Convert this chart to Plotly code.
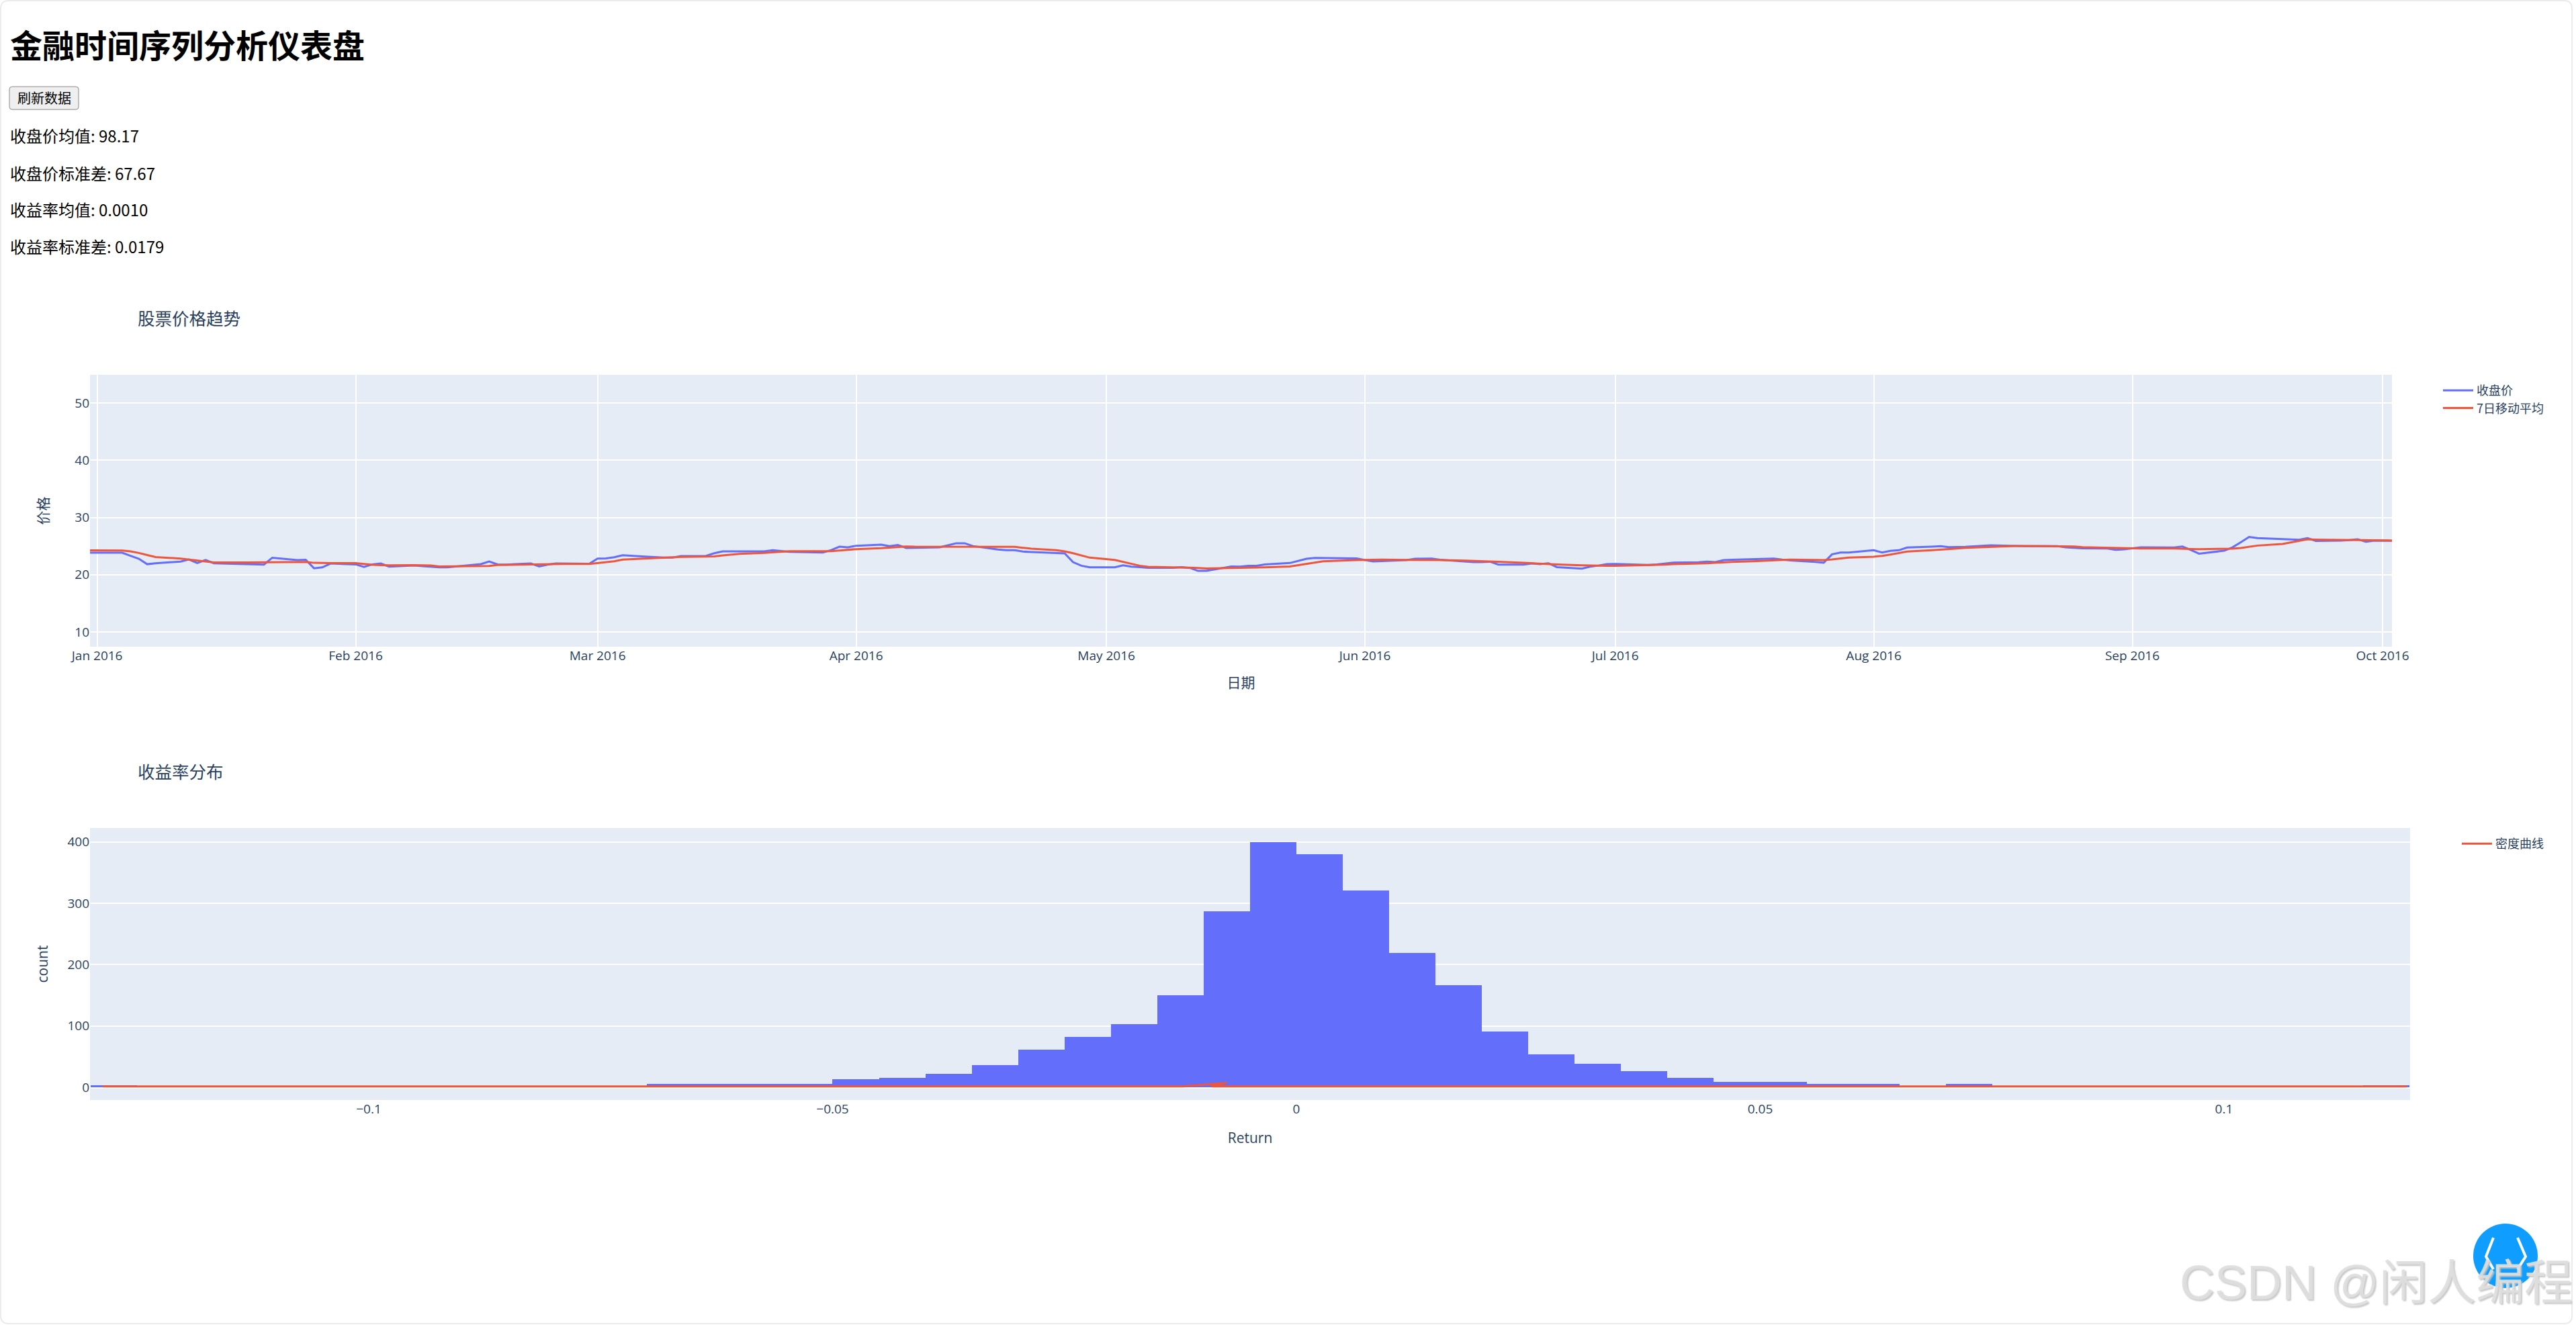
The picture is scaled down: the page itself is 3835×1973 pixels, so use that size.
import pandas as pd
import plotly.graph_objects as go

W, H = 3835, 1973

# ---------- data ----------
holidays = ["2016-01-01", "2016-01-18", "2016-02-15", "2016-03-25", "2016-05-30", "2016-07-04", "2016-09-05"]
dates = [d.strftime("%Y-%m-%d") for d in pd.bdate_range("2015-12-31", "2016-10-03") if d.strftime("%Y-%m-%d") not in holidays]

close_dec = [23.84]
close_jan = [23.83, 23.3, 22.78, 21.84, 22.0, 22.3, 22.66, 22.03, 22.58, 22.0, 21.88, 21.85, 21.76, 22.97, 22.54, 22.62, 21.13, 21.29, 21.96]
close_feb = [21.8, 21.37, 21.8, 21.96, 21.41, 21.6, 21.5, 21.4, 21.3, 21.3, 21.85, 22.3, 21.8, 21.76, 21.96, 21.45, 21.76, 21.96, 21.96, 21.9]
close_mar = [22.82, 22.86, 23.06, 23.41, 23.14, 23.06, 23.0, 23.0, 23.25, 23.3, 23.76, 24.08, 24.08, 24.08, 24.08, 24.27, 24.1, 24.0, 23.88, 24.3, 24.9, 24.78]
close_apr = [25.06, 25.25, 25.0, 25.2, 24.67, 24.7, 24.78, 25.14, 25.5, 25.5, 25.0, 24.4, 24.27, 24.27, 24.04, 23.96, 23.8, 23.73, 22.2, 21.57, 21.3]
close_may = [21.3, 21.65, 21.4, 21.33, 21.2, 21.2, 21.33, 21.18, 20.67, 20.67, 21.45, 21.41, 21.57, 21.57, 21.8, 22.04, 22.4, 22.78, 22.94, 22.94, 22.86]
close_jun = [22.55, 22.31, 22.39, 22.55, 22.78, 22.78, 22.82, 22.6, 22.24, 22.2, 22.2, 22.27, 21.76, 21.76, 21.96, 21.84, 22.0, 21.33, 21.06, 21.41, 21.6, 21.84]
close_jul = [21.88, 21.69, 21.8, 21.96, 22.1, 22.16, 22.3, 22.2, 22.55, 22.6, 22.7, 22.78, 22.82, 22.63, 22.5, 22.24, 22.1, 23.57, 23.88, 23.88]
close_aug = [24.27, 23.88, 24.16, 24.27, 24.75, 24.9, 24.98, 24.82, 24.82, 24.86, 25.14, 25.1, 25.06, 25.0, 25.0, 24.98, 24.98, 24.78, 24.67, 24.6, 24.58, 24.34, 24.42]
close_sep = [24.58, 24.77, 24.74, 24.93, 24.34, 23.68, 24.19, 24.77, 25.67, 26.6, 26.4, 26.2, 26.1, 26.1, 26.38, 25.9, 25.95, 26.03, 26.2, 25.75, 25.95]
close_oct = [25.9]

ma_dec = [24.26]
ma_jan = [24.22, 24.07, 23.8, 23.44, 23.09, 22.82, 22.66, 22.5, 22.35, 22.15, 22.15, 22.15, 22.15, 22.2, 22.23, 22.23, 22.07, 22.03, 22.03]
ma_feb = [22.03, 21.84, 21.72, 21.68, 21.64, 21.68, 21.64, 21.6, 21.45, 21.45, 21.53, 21.53, 21.69, 21.72, 21.76, 21.76, 21.8, 21.84, 21.88, 21.88]
ma_mar = [22.04, 22.2, 22.35, 22.63, 22.82, 22.94, 23.0, 23.06, 23.1, 23.18, 23.2, 23.37, 23.53, 23.65, 23.8, 23.92, 24.04, 24.12, 24.12, 24.12, 24.23, 24.35]
ma_apr = [24.47, 24.63, 24.75, 24.86, 24.94, 24.9, 24.9, 24.94, 24.94, 24.94, 24.94, 24.94, 24.94, 24.86, 24.7, 24.55, 24.27, 24.08, 23.76, 23.37, 22.98]
ma_may = [22.59, 22.27, 21.92, 21.57, 21.37, 21.3, 21.3, 21.2, 21.18, 21.1, 21.18, 21.18, 21.18, 21.2, 21.3, 21.45, 21.69, 21.92, 22.16, 22.35, 22.55]
ma_jun = [22.59, 22.63, 22.63, 22.59, 22.59, 22.59, 22.59, 22.55, 22.47, 22.43, 22.39, 22.39, 22.27, 22.08, 22.0, 21.96, 21.88, 21.8, 21.65, 21.6, 21.57, 21.57]
ma_jul = [21.57, 21.65, 21.69, 21.76, 21.84, 21.92, 22.0, 22.08, 22.16, 22.24, 22.39, 22.47, 22.55, 22.59, 22.63, 22.59, 22.55, 22.67, 22.86, 22.98]
ma_aug = [23.14, 23.29, 23.53, 23.76, 24.04, 24.27, 24.35, 24.47, 24.59, 24.7, 24.9, 24.94, 25.02, 25.02, 25.02, 25.02, 25.02, 24.98, 24.94, 24.82, 24.74, 24.7, 24.62]
ma_sep = [24.58, 24.58, 24.58, 24.58, 24.5, 24.46, 24.46, 24.54, 24.66, 24.85, 25.09, 25.36, 25.64, 25.95, 26.18, 26.14, 26.07, 26.07, 26.07, 26.0, 25.95]
ma_oct = [25.95]

close = close_dec + close_jan + close_feb + close_mar + close_apr + close_may + close_jun + close_jul + close_aug + close_sep + close_oct
ma7 = ma_dec + ma_jan + ma_feb + ma_mar + ma_apr + ma_may + ma_jun + ma_jul + ma_aug + ma_sep + ma_oct

bin_size = 0.005
bin_starts = [round(-0.13 + i * bin_size, 3) for i in range(50)]
bin_counts = [3, 0, 0, 0, 0, 0, 1, 0, 0, 1, 1, 0, 5, 5, 6, 6, 13, 15, 22, 36, 61, 82, 103, 150, 287, 399,
              380, 321, 219, 166, 91, 54, 38, 26, 15, 9, 9, 5, 5, 0, 5, 2, 0, 1, 1, 0, 1, 0, 0, 3]
density_x = [-0.1287, -0.0123, -0.0075, -0.0092, 0.1197]
density_y = [1.5, 1.5, 7.0, 1.5, 1.5]

page_title = "金融时间序列分析仪表盘"
button_label = "刷新数据"
stat_lines = ["收盘价均值: 98.17", "收盘价标准差: 67.67", "收益率均值: 0.0010", "收益率标准差: 0.0179"]
watermark = "CSDN @闲人编程"

# ---------- styling ----------
FONT = '"Open Sans", "Noto Sans CJK SC", sans-serif'
CJK = '"Noto Sans CJK SC", "Open Sans", sans-serif'
INK = "#2a3f5f"
BLUE = "#636efa"
RED = "#EF553B"
PLOT_BG = "#E5ECF6"

px = lambda x: x / W
py = lambda y: 1 - y / H

fig = go.Figure()
fig.add_trace(go.Scatter(x=dates, y=close, mode="lines", name="收盘价", line=dict(color=BLUE, width=3), xaxis="x", yaxis="y", legend="legend"))
fig.add_trace(go.Scatter(x=dates, y=ma7, mode="lines", name="7日移动平均", line=dict(color=RED, width=3), xaxis="x", yaxis="y", legend="legend"))
fig.add_trace(go.Bar(x=bin_starts, y=bin_counts, width=bin_size, offset=0, marker=dict(color=BLUE, line=dict(width=0)), showlegend=False, xaxis="x2", yaxis="y2"))
fig.add_trace(go.Scatter(x=density_x, y=density_y, mode="lines", name="密度曲线", line=dict(color=RED, width=3), showlegend=True, xaxis="x2", yaxis="y2", legend="legend2"))

axis_common = dict(automargin=False, tickfont=dict(size=19, color=INK, family=FONT), linewidth=0, ticks="", gridcolor="white", gridwidth=1.5,
                   zerolinecolor="white", zerolinewidth=3)

fig.update_layout(
    width=W, height=H, autosize=False,
    margin=dict(l=0, r=0, t=0, b=0, pad=0),
    paper_bgcolor="white", plot_bgcolor=PLOT_BG,
    font=dict(family=FONT, size=18, color=INK),
    bargap=0,
    xaxis=dict(axis_common, domain=[px(134), px(3561)], anchor="y", type="date",
               range=["2015-12-31 03:30", "2016-10-02 03:00"], dtick="M1", tick0="2016-01-01", tickformat="%b %Y",
               showgrid=True, title=dict(text="日期", font=dict(size=21, color=INK, family=FONT), standoff=21)),
    yaxis=dict(axis_common, domain=[py(963), py(558)], anchor="x", range=[7.42, 54.93], dtick=10, showgrid=True, zeroline=False,
               title=dict(text="价格", font=dict(size=21, color=INK, family=FONT), standoff=32)),
    xaxis2=dict(axis_common, domain=[px(134), px(3588)], anchor="y2", range=[-0.13005, 0.12006], dtick=0.05, tick0=0, showgrid=False, zeroline=False,
                title=dict(text="Return", font=dict(size=21, color=INK, family=FONT), standoff=24)),
    yaxis2=dict(axis_common, domain=[py(1638), py(1233)], anchor="x2", range=[-20.8, 422.5], dtick=100, showgrid=True,
                title=dict(text="count", font=dict(size=21, color=INK, family=FONT), standoff=23)),
    legend=dict(x=px(3632), y=py(563), xanchor="left", yanchor="top", bgcolor="rgba(0,0,0,0)", borderwidth=0, itemwidth=45,
                font=dict(size=18, color=INK, family=CJK), tracegroupgap=0),
    legend2=dict(x=px(3660), y=py(1238), xanchor="left", yanchor="top", bgcolor="rgba(0,0,0,0)", borderwidth=0, itemwidth=45,
                 font=dict(size=18, color=INK, family=CJK)),
)

# ---------- page furniture ----------
def rrect(x0, y0, x1, y1, r):
    P = lambda x, y: f"{px(x)},{py(y)}"
    return (f"M{P(x0+r,y0)} L{P(x1-r,y0)} Q{P(x1,y0)} {P(x1,y0+r)} L{P(x1,y1-r)} Q{P(x1,y1)} {P(x1-r,y1)} "
            f"L{P(x0+r,y1)} Q{P(x0,y1)} {P(x0,y1-r)} L{P(x0,y0+r)} Q{P(x0,y0)} {P(x0+r,y0)} Z")

def poly(points):
    return "M" + " L".join(f"{px(x)},{py(y)}" for x, y in points)

shapes = [
    dict(type="path", xref="paper", yref="paper", path=rrect(1, 1, 3829, 1971, 12), line=dict(color="#ebebeb", width=2), layer="below"),
    dict(type="path", xref="paper", yref="paper", path=rrect(14, 129, 117, 163, 4), line=dict(color="#8a8a8a", width=1), fillcolor="#efefef", layer="below"),
    dict(type="circle", xref="paper", yref="paper", x0=px(3682), x1=px(3778), y0=py(1822), y1=py(1918), line=dict(width=0), fillcolor="#0f9eff", layer="above"),
    dict(type="path", xref="paper", yref="paper", path=poly([(3712, 1843), (3701, 1871), (3712, 1890)]), line=dict(color="white", width=4), layer="above"),
    dict(type="path", xref="paper", yref="paper", path=poly([(3748, 1843), (3760, 1871), (3748, 1890)]), line=dict(color="white", width=4), layer="above"),
]
fig.update_layout(shapes=shapes)

ann = []
def text(x, y, s, size, color="black", family=CJK, bold=False, xanchor="left", **kw):
    ann.append(dict(xref="paper", yref="paper", x=px(x), y=py(y), text=f"<b>{s}</b>" if bold else s, showarrow=False, xanchor=xanchor, yanchor="middle",
                    font=dict(size=size, color=color, family=family), xshift=0, yshift=0, align="left", borderpad=0, **kw))

text(14, 65, page_title, 48, bold=True)
text(65.5, 146, button_label, 20, xanchor="center")
for yy, s in zip([202, 257, 312, 367], stat_lines):
    text(14, yy, s, 24)
text(204, 472, "股票价格趋势", 25.5, color=INK)
text(204, 1147, "收益率分布", 25.5, color=INK)
fig.update_layout(annotations=ann)
fig.add_annotation(xref="paper", yref="paper", x=px(3832), y=py(1910), text=watermark, showarrow=False, xanchor="right", yanchor="middle",
                   font=dict(size=72, color="rgba(222,222,222,0.92)", family='"Liberation Sans", "Noto Sans CJK SC", sans-serif', shadow="2px 2px 2px #c4c4c4"))

fig.write_html("out.html", config=dict(displayModeBar=False), post_script="document.body.style.margin='0';document.body.style.background='white';")
